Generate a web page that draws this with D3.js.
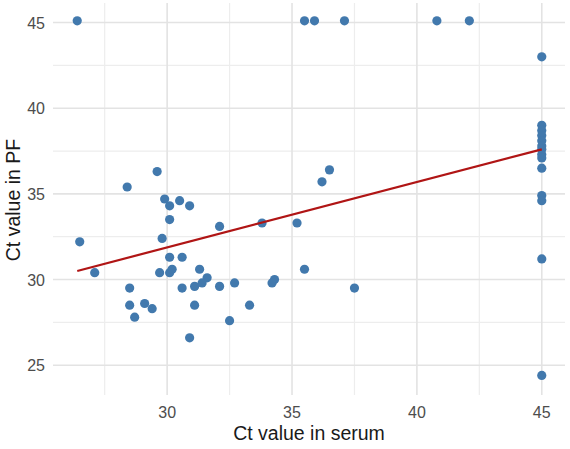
<!DOCTYPE html>
<html>
<head>
<meta charset="UTF-8">
<script src="https://d3js.org/d3.v7.min.js"></script>
<style>
  body { margin: 0; background: #fff; }
  text { font-family: 'Liberation Sans', Arial, sans-serif; }
</style>
</head>
<body>
<div id="chart"></div>
<script>
  // Ct values
  var serumCt = [26.4, 35.5, 35.9, 37.1, 40.8, 42.1, 45, 45, 45, 45, 45, 45, 45, 45, 45,
                 45, 45, 45, 45, 45, 36.5, 36.2, 28.4, 29.6, 26.5, 27.1, 28.5, 28.5, 28.7,
                 29.1, 29.4, 29.7, 29.8, 29.9, 30.1, 30.5, 30.9, 30.1, 30.1, 30.6, 30.1,
                 30.2, 30.6, 31.1, 31.1, 30.9, 31.3, 31.6, 31.4, 32.1, 33.8, 35.2, 32.1,
                 32.7, 32.5, 33.3, 34.3, 34.2, 35.5, 37.5];
  var pfCt    = [45.1, 45.1, 45.1, 45.1, 45.1, 45.1, 43.0, 39.0, 38.7, 38.4, 38.1, 37.8,
                 37.6, 37.3, 37.1, 36.5, 34.9, 34.6, 31.2, 24.4, 36.4, 35.7, 35.4, 36.3,
                 32.2, 30.4, 29.5, 28.5, 27.8, 28.6, 28.3, 30.4, 32.4, 34.7, 34.3, 34.6,
                 34.3, 33.5, 31.3, 31.3, 30.4, 30.6, 29.5, 29.6, 28.5, 26.6, 30.6, 30.1,
                 29.8, 33.1, 33.3, 33.3, 29.6, 29.8, 27.6, 28.5, 30.0, 29.8, 30.6, 29.5];
  // linear fit line ends
  var fitX = [26.4, 45.0];
  var fitY = [30.5, 37.6];

  var xTicks = [30, 35, 40, 45];
  var xMinor = [27.5, 32.5, 37.5, 42.5];
  var yTicks = [25, 30, 35, 40, 45];
  var yMinor = [27.5, 32.5, 37.5, 42.5];

  var width = 570, height = 449;
  var margin = { top: 3, right: 5, bottom: 54, left: 53 };

  var svg = d3.select("#chart").append("svg")
    .attr("width", width)
    .attr("height", height);

  var x = d3.scaleLinear().domain([25.43, 45.93]).range([margin.left, width - margin.right]);
  var y = d3.scaleLinear().domain([23.26, 46.14]).range([height - margin.bottom, margin.top]);

  var grid = svg.append("g");
  grid.selectAll(".xminor").data(xMinor).enter().append("line")
    .attr("x1", function(d) { return x(d); }).attr("x2", function(d) { return x(d); })
    .attr("y1", y.range()[0]).attr("y2", y.range()[1])
    .attr("stroke", "#ededed").attr("stroke-width", 1.2);
  grid.selectAll(".yminor").data(yMinor).enter().append("line")
    .attr("y1", function(d) { return y(d); }).attr("y2", function(d) { return y(d); })
    .attr("x1", x.range()[0]).attr("x2", x.range()[1])
    .attr("stroke", "#ededed").attr("stroke-width", 1.2);
  grid.selectAll(".xmajor").data(xTicks).enter().append("line")
    .attr("x1", function(d) { return x(d); }).attr("x2", function(d) { return x(d); })
    .attr("y1", y.range()[0]).attr("y2", y.range()[1])
    .attr("stroke", "#e3e3e3").attr("stroke-width", 1.6);
  grid.selectAll(".ymajor").data(yTicks).enter().append("line")
    .attr("y1", function(d) { return y(d); }).attr("y2", function(d) { return y(d); })
    .attr("x1", x.range()[0]).attr("x2", x.range()[1])
    .attr("stroke", "#e3e3e3").attr("stroke-width", 1.6);

  // tick labels
  svg.append("g").selectAll("text").data(xTicks).enter().append("text")
    .attr("x", function(d) { return x(d); })
    .attr("y", 418)
    .attr("text-anchor", "middle")
    .attr("font-size", "16px")
    .attr("fill", "#4d4d4d")
    .text(function(d) { return d; });
  svg.append("g").selectAll("text").data(yTicks).enter().append("text")
    .attr("x", 45)
    .attr("y", function(d) { return y(d) + 6; })
    .attr("text-anchor", "end")
    .attr("font-size", "16px")
    .attr("fill", "#4d4d4d")
    .text(function(d) { return d; });

  // axis titles
  svg.append("text")
    .attr("x", 309).attr("y", 440)
    .attr("text-anchor", "middle")
    .attr("font-size", "19.5px")
    .attr("fill", "#1a1a1a")
    .text("Ct value in serum");
  svg.append("text")
    .attr("transform", "translate(20," + 200 + ") rotate(-90)")
    .attr("text-anchor", "middle")
    .attr("font-size", "19.5px")
    .attr("fill", "#1a1a1a")
    .text("Ct value in PF");

  var pts = serumCt.map(function(d, i) { return { x: d, y: pfCt[i] }; });

  svg.append("g").selectAll("circle").data(pts).enter().append("circle")
    .attr("cx", function(d) { return x(d.x); })
    .attr("cy", function(d) { return y(d.y); })
    .attr("r", 4.6)
    .attr("fill", "#4279ad");

  var line = d3.line().x(function(d) { return x(d[0]); }).y(function(d) { return y(d[1]); });
  svg.append("path")
    .datum(fitX.map(function(d, i) { return [d, fitY[i]]; }))
    .attr("d", line)
    .attr("fill", "none")
    .attr("stroke", "#b01515")
    .attr("stroke-width", 2.2);
</script>
</body>
</html>
